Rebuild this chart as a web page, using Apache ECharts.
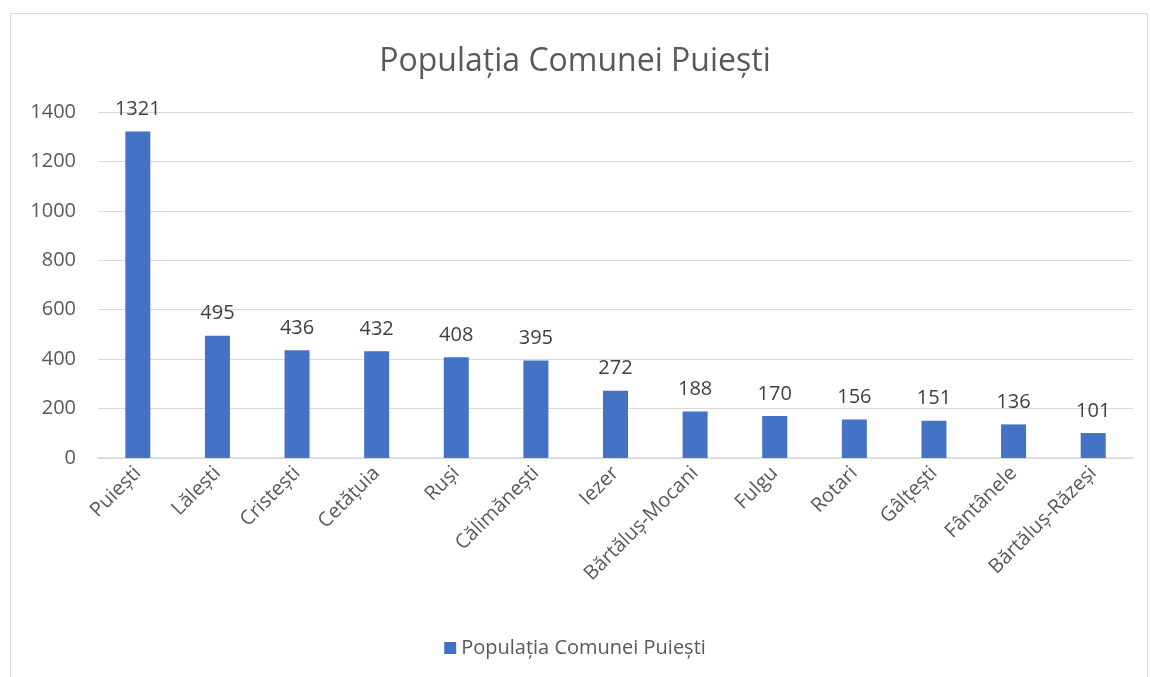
<!DOCTYPE html>
<html>
<head>
<meta charset="utf-8">
<script src="https://cdn.jsdelivr.net/npm/echarts@6/dist/echarts.min.js"></script>
<style>
    html, body { margin: 0; padding: 0; background: #fff; }
    #main { width: 1150px; height: 677px; }
</style>
</head>
<body>
<div id="main"></div>
<script type="text/javascript">
    var seriesName = 'Populația Comunei Puiești';
    var villages = ['Puiești', 'Lălești', 'Cristești', 'Cetățuia', 'Ruși', 'Călimănești', 'Iezer',
        'Bărtăluș-Mocani', 'Fulgu', 'Rotari', 'Gâlțești', 'Fântânele', 'Bărtăluș-Răzeși'];
    var population = [1321, 495, 436, 432, 408, 395, 272, 188, 170, 156, 151, 136, 101];

    var myChart = echarts.init(document.getElementById('main'));
    var font = '"Open Sans", "Noto Sans", sans-serif';

    var option = {
        backgroundColor: '#fff',
        animation: false,
        textStyle: { fontFamily: font },
        graphic: [{
            type: 'rect',
            shape: { x: 10.5, y: 13.5, width: 1137, height: 680 },
            style: { fill: 'none', stroke: '#d9d9d9', lineWidth: 1 }
        }],
        title: {
            text: seriesName,
            left: 'center',
            top: 41,
            textStyle: { color: '#595959', fontSize: 32, fontWeight: 'normal', fontFamily: font }
        },
        legend: {
            bottom: 14,
            left: 'center',
            icon: 'rect',
            itemWidth: 12,
            itemHeight: 12,
            itemGap: 6,
            textStyle: { color: '#595959', fontSize: 20, fontFamily: font },
            data: [seriesName]
        },
        grid: {
            left: 98,
            right: 17,
            top: 112,
            bottom: 219,
            containLabel: false
        },
        xAxis: {
            type: 'category',
            data: villages,
            axisTick: { show: false },
            axisLine: { lineStyle: { color: '#d9d9d9', width: 1.5 } },
            axisLabel: {
                rotate: 45,
                color: '#595959',
                fontSize: 20,
                fontFamily: font,
                interval: 0,
                margin: 12
            }
        },
        yAxis: {
            type: 'value',
            min: 0,
            max: 1400,
            interval: 200,
            axisLine: { show: false },
            axisTick: { show: false },
            splitLine: { lineStyle: { color: '#d9d9d9', width: 1 } },
            axisLabel: {
                color: '#595959',
                fontSize: 20,
                fontFamily: font,
                margin: 22,
                formatter: function (v) { return String(v); }
            }
        },
        series: [{
            name: seriesName,
            type: 'bar',
            data: population,
            barWidth: 25,
            itemStyle: { color: '#4472C4' },
            label: {
                show: true,
                position: 'top',
                distance: 12,
                color: '#404040',
                fontSize: 20,
                fontFamily: font
            }
        }]
    };
    myChart.setOption(option);
</script>
</body>
</html>
